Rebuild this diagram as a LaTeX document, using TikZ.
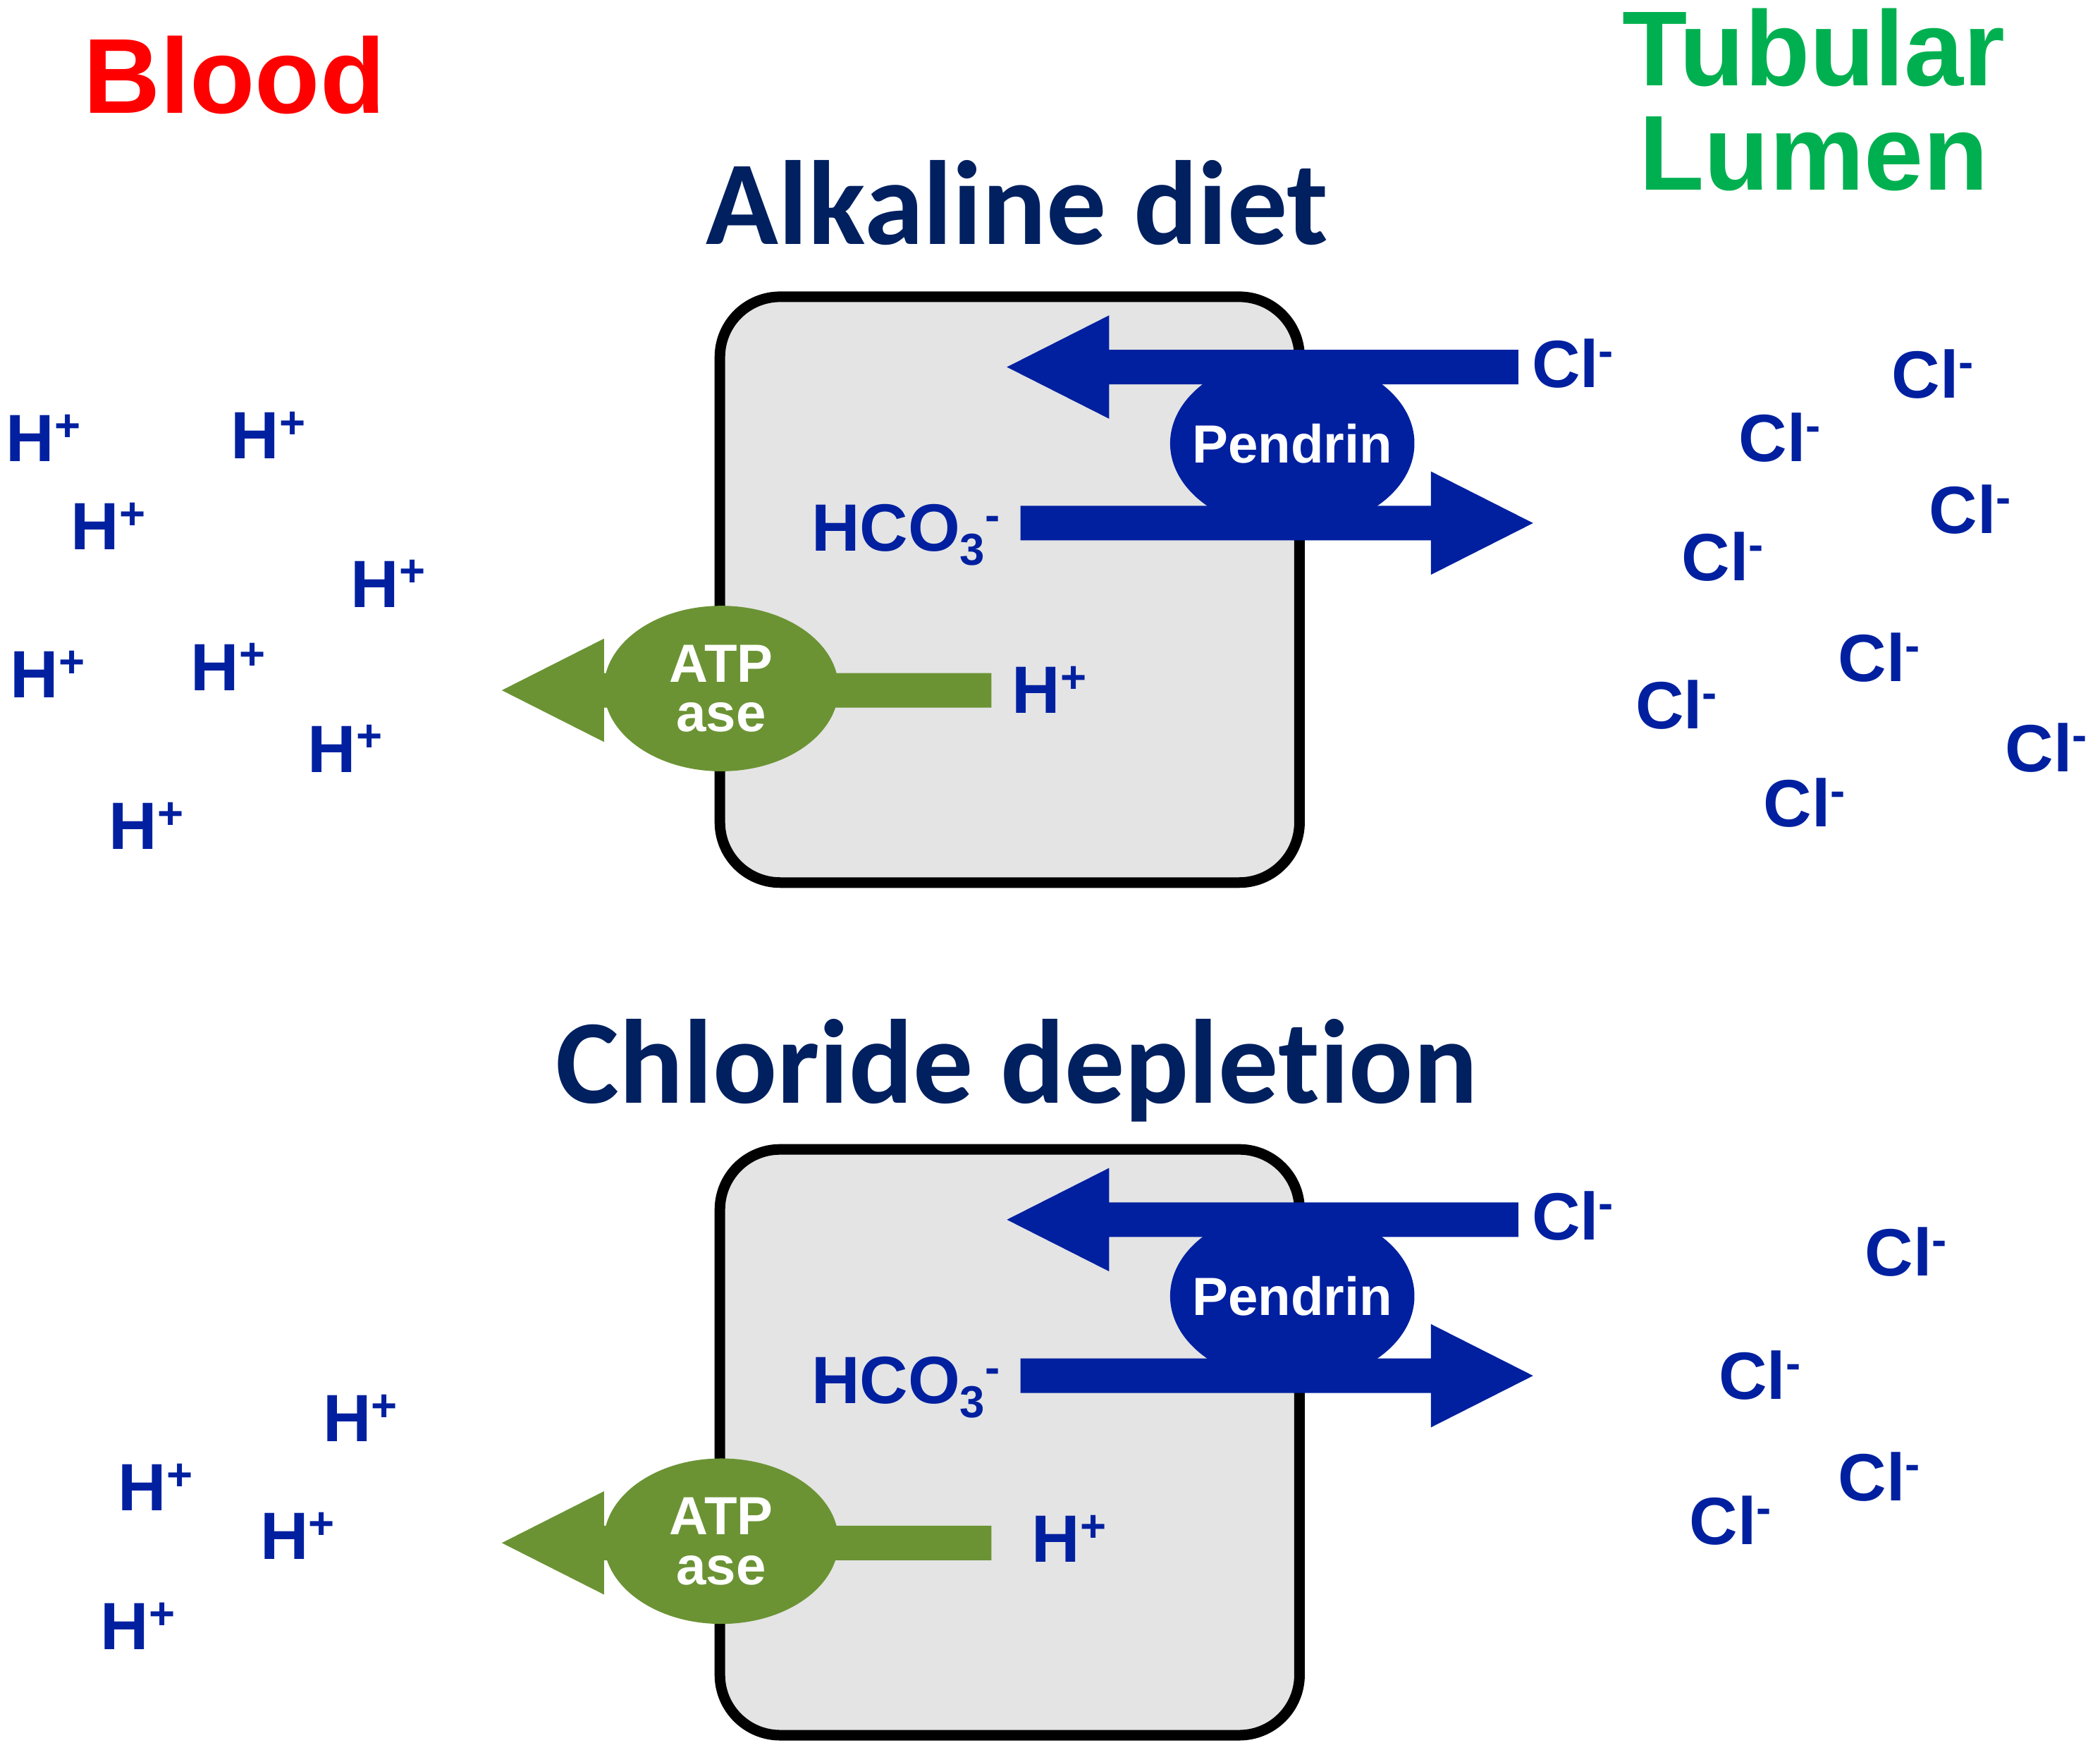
\documentclass[tikz,border=0pt]{standalone}
\usepackage{graphicx}
\usepackage{fontspec}
\setmainfont{Liberation Sans}
\newfontfamily\titlefont{Carlito}[Ligatures=NoCommon]
\usetikzlibrary{calc, shapes.geometric}

\definecolor{ionblue}{HTML}{0020A0}
\definecolor{atpgreen}{HTML}{6B9334}
\definecolor{cellgray}{HTML}{E4E4E4}
\definecolor{titlenavy}{HTML}{002060}
\definecolor{lumengreen}{HTML}{00B050}

\newcommand{\ionsup}[1]{\raisebox{0.31em}{\scalebox{0.67}{#1}}}
\newcommand{\ionsub}[1]{\raisebox{-0.21em}{\scalebox{0.67}{#1}}}
% fat block arrow: colour, start, tip
\newcommand{\blockarrow}[3]{%
	\coordinate (ab) at ($(#3)!14.5mm!(#2)$);
	\fill[#1] ($(#2)!2.45mm!90:(#3)$) -- ($(ab)!2.45mm!90:(#3)$) -- ($(ab)!7.33mm!90:(#3)$) -- (#3)
		-- ($(ab)!7.33mm!-90:(#3)$) -- ($(ab)!2.45mm!-90:(#3)$) -- ($(#2)!2.45mm!-90:(#3)$) -- cycle;}

\begin{document}
\begin{tikzpicture}[x=0.19mm, y=-0.19mm,
	ion/.style={anchor=base west, inner sep=0, text=ionblue, font=\fontsize{27}{30}\selectfont\bfseries},
	sidelabel/.style={anchor=base, inner sep=0, font=\fontsize{43}{42}\selectfont\bfseries},
	paneltitle/.style={anchor=base, inner sep=0, text=titlenavy, font=\titlefont\fontsize{48.3}{50}\selectfont\bfseries},
	cellbox/.style={draw, line width=1.5mm, fill=cellgray, rounded corners=8.55mm, minimum width=82.23mm, minimum height=83.09mm, inner sep=0},
	pendrin/.style={ellipse, fill=ionblue, text=white, inner sep=0, minimum width=34.66mm, minimum height=24.7mm, font=\fontsize{21.7}{20}\selectfont\bfseries},
	atpase/.style={ellipse, fill=atpgreen, text=white, inner sep=0, minimum width=33.29mm, minimum height=23.47mm, align=center, font=\fontsize{21.7}{20.1}\selectfont\bfseries}]
	\useasboundingbox (0,0) rectangle (1568,1306);

	% sides
	\node[sidelabel, text=red] (blood) at (174.9,84.6) {Blood};
	\node[sidelabel, text=lumengreen, anchor=center, align=center] (lumen) at (1354.3,74.6) {Tubular\\Lumen};

	% titles
	\node[paneltitle] (alkaline) at (759.5,182.5) {Alkaline diet};
	\node[paneltitle] (chloride) at (759,823.7) {Chloride depletion};

	% the two cells
	\foreach \dy/\p/\hx/\hy in {0/a/755.3/532.5, 636.5/b/770/529.8} {
		\node[cellbox] (cell\p) at (753.9,440.2+\dy) {};
		\coordinate (clS\p) at (1133.7,274+\dy);
		\coordinate (clT\p) at (751.8,274+\dy);
		\coordinate (hcoS\p) at (762,390.5+\dy);
		\coordinate (hcoT\p) at (1144.7,390.5+\dy);
		\coordinate (hS\p) at (740.3,515.3+\dy);
		\coordinate (hT\p) at (374.7,515.3+\dy);
		\blockarrow{ionblue}{clS\p}{clT\p}
		\blockarrow{ionblue}{hcoS\p}{hcoT\p}
		\blockarrow{atpgreen}{hS\p}{hT\p}
		\node[pendrin] (pendrin\p) at (964.9,331+\dy) {\makebox[0pt]{Pendrin}};
		\node[atpase] (atpase\p) at (538.5,514+\dy) {ATP\\ase};
		\node[ion] (cl\p) at (1143.4,289+\dy) {Cl\ionsup{-}};
		\node[ion] (hco\p) at (605.5,411.3+\dy) {HCO\ionsub{3}\ionsup{-}};
		\node[ion] (h\p) at (\hx,\hy+\dy) {H\ionsup{+}};
	}

	% protons in the blood
	\foreach \x/\y [count=\i] in {4.2/344.7, 172.2/342.6, 52.6/410.5, 261.7/453.2, 7.4/520.9, 142.1/515.3, 229.6/576.4, 81/634.2}
		\node[ion] (hblooda\i) at (\x,\y) {H\ionsup{+}};
	\foreach \x/\y [count=\i] in {240.7/1076.3, 87.9/1127.9, 194.1/1164.2, 74.8/1231.6}
		\node[ion] (hbloodb\i) at (\x,\y) {H\ionsup{+}};

	% chloride in the lumen
	\foreach \x/\y [count=\i] in {1412.1/297.3, 1297.9/344.6, 1440.1/398.3, 1255.3/433.5, 1372.1/508.8, 1220.8/544.1, 1496.9/576, 1316.4/617.4}
		\node[ion] (cllumena\i) at (\x,\y) {Cl\ionsup{-}};
	\foreach \x/\y [count=\i] in {1392.2/952.5, 1283/1044.7, 1372.1/1120.1, 1261.1/1152.7}
		\node[ion] (cllumenb\i) at (\x,\y) {Cl\ionsup{-}};
\end{tikzpicture}
\end{document}
